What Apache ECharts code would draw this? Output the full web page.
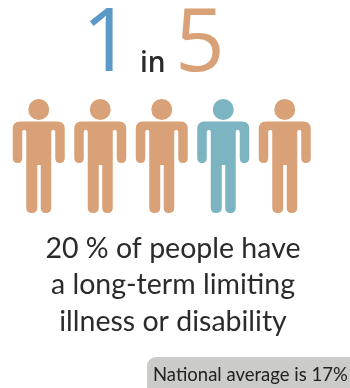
<!DOCTYPE html>
<html>
<head>
<meta charset="utf-8">
<style>html,body{margin:0;padding:0;background:#fff}#c{width:350px;height:388px}</style>
<script src="https://cdn.jsdelivr.net/npm/echarts@6/dist/echarts.min.js"></script>
</head>
<body>
<div id="c"></div>
<script>
const people = ['p1', 'p2', 'p3', 'p4', 'p5'];
const affected = [0, 0, 0, 1, 0];
const numerator = '1';
const denominator = '5';
const joiner = 'in';
const captionLines = ['20 % of people have', 'a long-term limiting', 'illness or disability'];
const nationalNote = 'National average is 17%';

const ORANGE = '#d9a177';
const TEAL = '#7cb4c2';
const BLUE = '#5b9ac6';

// Standing figure: head plus body with arms and two legs
const personPath = 'path://M15.5 10.5A10.5 10.5 0 1 0 36.5 10.5A10.5 10.5 0 1 0 15.5 10.5Z' +
  'M7 22.5H45Q52 22.5 52 30V59Q52 64 47 64Q42.5 64 42.5 59V33Q42.5 31 41 31H40Q38.5 31 38.5 33V109Q38.5 114 33 114Q28 114 28 109V66H24.5V109Q24.5 114 19 114Q13.5 114 13.5 109V33Q13.5 31 12 31H11Q9.5 31 9.5 33V59Q9.5 64 5 64Q0 64 0 59V30Q0 22.5 7 22.5Z';

const bigFont = { fontFamily: 'Open Sans', fontSize: 87, fontWeight: 400, verticalAlign: 'top' };
const bodyFont = { fontFamily: 'Lato', fontSize: 28.5, fill: '#2b2b2b', align: 'center', verticalAlign: 'middle' };

const chart = echarts.init(document.getElementById('c'), null, { renderer: 'canvas' });
chart.setOption({
  animation: false,
  backgroundColor: '#fff',
  grid: { left: 8, top: 99, width: 307.5, height: 114 },
  xAxis: { type: 'category', data: people, show: false },
  yAxis: { type: 'value', min: 0, max: 1, show: false },
  series: [{
    type: 'scatter',
    symbol: personPath,
    symbolSize: [52, 114],
    silent: true,
    data: affected.map((flag, i) => ({
      value: [people[i], 0.5],
      itemStyle: { color: flag ? TEAL : ORANGE, opacity: 1 }
    }))
  }],
  graphic: [
    { type: 'text', x: 82, y: 3, style: Object.assign({ text: numerator, fill: BLUE }, bigFont) },
    { type: 'text', x: 140, y: 50, style: { text: joiner, fill: '#2b2b2b', fontFamily: 'Open Sans', fontSize: 28, fontWeight: 600, verticalAlign: 'top' } },
    { type: 'text', x: 175, y: 3, style: Object.assign({ text: denominator, fill: ORANGE }, bigFont) },
    { type: 'text', x: 173, y: 249, style: Object.assign({ text: captionLines[0] }, bodyFont) },
    { type: 'text', x: 173, y: 285, style: Object.assign({ text: captionLines[1] }, bodyFont) },
    { type: 'text', x: 173, y: 322, style: Object.assign({ text: captionLines[2] }, bodyFont) },
    { type: 'rect', shape: { x: 147, y: 357, width: 230, height: 40, r: 9 }, style: { fill: '#cbcbc9' } },
    { type: 'text', x: 153, y: 375, style: { text: nationalNote, fill: '#222', fontFamily: 'Lato', fontSize: 18.5, verticalAlign: 'middle' } }
  ]
});
</script>
</body>
</html>
